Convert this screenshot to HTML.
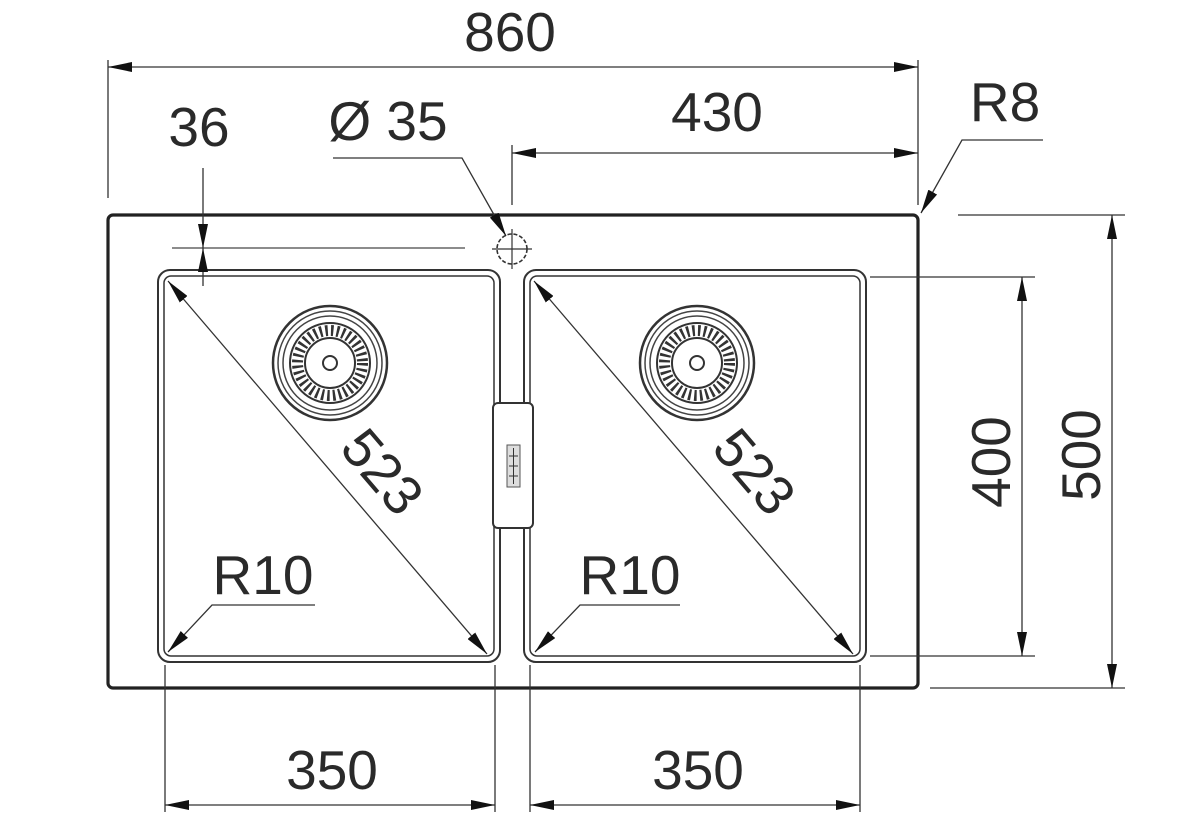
<!DOCTYPE html>
<html><head><meta charset="utf-8"><style>
html,body{margin:0;padding:0;background:#fff;width:1200px;height:821px;overflow:hidden}
svg{display:block}
text{font-family:"Liberation Sans",Arial,sans-serif;font-size:55px;fill:#2a2a2a}
</style></head><body>
<svg width="1200" height="821" viewBox="0 0 1200 821" xmlns="http://www.w3.org/2000/svg">
<defs>
<marker id="a" viewBox="0 0 24 10" refX="24" refY="5" markerWidth="24" markerHeight="10" markerUnits="userSpaceOnUse" orient="auto"><path d="M0,0 L24,5 L0,10 Z" fill="#111"/></marker>
<marker id="s" viewBox="0 0 24 10" refX="0" refY="5" markerWidth="24" markerHeight="10" markerUnits="userSpaceOnUse" orient="auto"><path d="M24,0 L0,5 L24,10 Z" fill="#111"/></marker>
<g id="drain">
<circle r="57" fill="none" stroke="#333" stroke-width="2.5"/>
<circle r="52" fill="none" stroke="#444" stroke-width="1.5"/>
<circle r="47" fill="none" stroke="#444" stroke-width="1.5"/>
<circle r="40" fill="none" stroke="#333" stroke-width="2"/>
<circle r="32.5" fill="none" stroke="#333" stroke-width="11" stroke-dasharray="2.5 3.2"/>
<circle r="25" fill="#fff" stroke="#333" stroke-width="2"/>
<circle r="7" fill="none" stroke="#333" stroke-width="2"/>
</g>
</defs>
<g stroke="#333" fill="none" stroke-width="1.6">
<rect x="108" y="215" width="810" height="473" rx="5" stroke-width="3.2" stroke="#222"/>
<rect x="158" y="270" width="342" height="392" rx="12" stroke-width="2"/>
<rect x="164" y="276" width="330" height="380" rx="7" stroke-width="1.5"/>
<rect x="524" y="270" width="342" height="392" rx="12" stroke-width="2"/>
<rect x="530" y="276" width="330" height="380" rx="7" stroke-width="1.5"/>
<rect x="493" y="403" width="40" height="125" rx="5" fill="#fff" stroke-width="2"/>
<rect x="507" y="445" width="13" height="42" fill="#ddd" stroke="#555" stroke-width="1"/>
<path d="M509,456h9M509,466h9M509,476h9M513.5,448v36" stroke-width="1"/>
<line x1="172" y1="248" x2="465" y2="248" stroke="#666" stroke-width="1.5"/>
<circle cx="512" cy="249" r="15" stroke-dasharray="4 2"/>
<path d="M492,249h40M512,229v40" stroke-width="1.2"/>
<path d="M108,60V198M918,60V205" stroke-width="1.3"/>
<line x1="108" y1="67" x2="918" y2="67" marker-start="url(#s)" marker-end="url(#a)" stroke-width="1.3"/>
<path d="M512,145V205" stroke-width="1.3"/>
<line x1="512" y1="153" x2="918" y2="153" marker-start="url(#s)" marker-end="url(#a)" stroke-width="1.3"/>
<line x1="203" y1="168" x2="203" y2="248" marker-end="url(#a)" stroke-width="1.3"/>
<line x1="203" y1="248" x2="203" y2="286" marker-start="url(#s)" stroke-width="1.3"/>
<polyline points="333,158 462,158 506,236" marker-end="url(#a)" stroke-width="1.3"/>
<polyline points="1043,140 962,140 921,213" marker-end="url(#a)" stroke-width="1.3"/>
<path d="M958,215H1125M930,688H1125" stroke-width="1.3"/>
<line x1="1112" y1="215" x2="1112" y2="688" marker-start="url(#s)" marker-end="url(#a)" stroke-width="1.3"/>
<path d="M870,277H1035M870,656H1035" stroke-width="1.3"/>
<line x1="1022" y1="277" x2="1022" y2="656" marker-start="url(#s)" marker-end="url(#a)" stroke-width="1.3"/>
<path d="M165,665V812M495,665V812M530,665V812M860,665V812" stroke-width="1.3"/>
<line x1="165" y1="805" x2="495" y2="805" marker-start="url(#s)" marker-end="url(#a)" stroke-width="1.3"/>
<line x1="530" y1="805" x2="860" y2="805" marker-start="url(#s)" marker-end="url(#a)" stroke-width="1.3"/>
<line x1="168" y1="281" x2="487" y2="654" marker-start="url(#s)" marker-end="url(#a)" stroke-width="1.3"/>
<line x1="534" y1="281" x2="853" y2="654" marker-start="url(#s)" marker-end="url(#a)" stroke-width="1.3"/>
<polyline points="315,605 212,605 168,652" marker-end="url(#a)" stroke-width="1.3"/>
<polyline points="680,605 580,605 535,652" marker-end="url(#a)" stroke-width="1.3"/>
</g>
<use href="#drain" x="330" y="363"/>
<use href="#drain" x="697" y="363"/>
<text x="510" y="51" text-anchor="middle">860</text>
<text x="717" y="131" text-anchor="middle">430</text>
<text x="199" y="146" text-anchor="middle">36</text>
<text x="388" y="140" text-anchor="middle">Ø 35</text>
<text x="1005" y="121" text-anchor="middle">R8</text>
<text x="263" y="594" text-anchor="middle">R10</text>
<text x="630" y="594" text-anchor="middle">R10</text>
<text x="332" y="789" text-anchor="middle">350</text>
<text x="698" y="789" text-anchor="middle">350</text>
<text transform="translate(1100,455) rotate(-90)" text-anchor="middle">500</text>
<text transform="translate(1010,462) rotate(-90)" text-anchor="middle">400</text>
<text transform="translate(368,484) rotate(49.5)" text-anchor="middle">523</text>
<text transform="translate(740,484) rotate(49.5)" text-anchor="middle">523</text>
</svg>
</body></html>
